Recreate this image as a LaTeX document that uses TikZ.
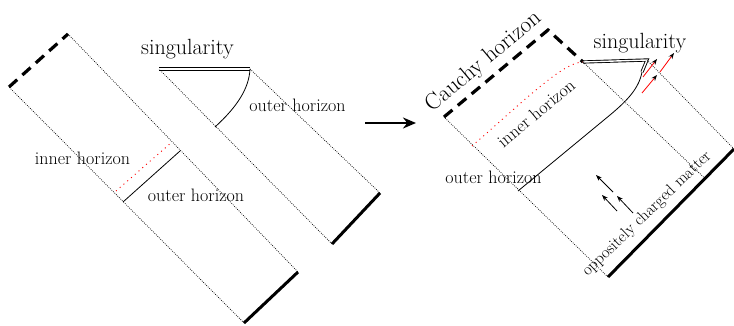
\documentclass[tikz,border=0pt]{standalone}
\usetikzlibrary{arrows.meta}
\begin{document}
\begin{tikzpicture}[x=1pt,y=-1pt,
  edge/.style={line width=0.7pt, dash pattern=on 0.8pt off 1.3pt},
  thickb/.style={line width=3pt},
  dashb/.style={line width=3.2pt, dash pattern=on 11pt off 7pt},
  sing/.style={double, double distance=1.4pt, line width=0.9pt},
  redh/.style={red, line width=0.9pt, dash pattern=on 1pt off 4pt},
  hor/.style={line width=0.8pt},
  smallarr/.style={line width=0.8pt, -{Stealth[length=6pt,width=4.5pt]}},
  redarr/.style={red, line width=0.8pt, -{Stealth[length=6pt,width=4.5pt,black]}},
  lbl/.style={inner sep=0pt, font=\fontsize{18}{20}\selectfont},
  biglbl/.style={inner sep=0pt, font=\fontsize{22}{24}\selectfont}]
\useasboundingbox (0,0) rectangle (734,326);
% left strip 1
\coordinate (A1) at (9,87);
\coordinate (A2) at (68,34);
\coordinate (A3) at (298,272);
\coordinate (A4) at (244,323);
\draw[dashb] (A1) -- (A2);
\draw[edge] (A2) -- (A3);
\draw[thickb] (A3) -- (A4);
\draw[edge] (A4) -- (A1);
\coordinate (ih1) at (116,191);
\coordinate (ih2) at (172,142);
\coordinate (oh1) at (123,202);
\coordinate (oh2) at (180,151);
\draw[redh] (ih1) -- (ih2);
\draw[hor] (oh1) -- (oh2);
\node[lbl, anchor=base] (Lih) at (82.5,165) {inner horizon};
\node[lbl, anchor=base] (Loh) at (196,201) {outer horizon};
% left strip 2
\coordinate (B1) at (159,69);
\coordinate (B2) at (250,69);
\coordinate (B3) at (380,193);
\coordinate (B4) at (332,244);
\draw[sing] (B1) -- (B2);
\draw[edge] (B2) -- (B3);
\draw[thickb] (B3) -- (B4);
\draw[edge] (B4) -- (B1);
\coordinate (boh) at (215,127);
\draw[hor] (boh) .. controls (238,106) and (249,88) .. (B2);
\node[biglbl, anchor=base] (Lsing) at (187.5,55) {singularity};
\node[lbl, anchor=base] (Loh2) at (297.5,111.5) {outer horizon};
% transition arrow
\coordinate (T1) at (365,123);
\coordinate (T2) at (416,123);
\draw[line width=2.5pt, -{Stealth[length=13pt,width=11pt]}] (T1) -- (T2);
% right diagram
\coordinate (C1) at (444,117);
\coordinate (C2) at (548,30);
\coordinate (C3) at (583,62);
\coordinate (C4) at (647,60);
\coordinate (C4b) at (642,72);
\coordinate (C5) at (734,149);
\coordinate (C6) at (608,277);
\coordinate (D) at (705,178.5);
\draw[dashb] (C1) -- (C2) -- (C3);
\draw[sing] (C3) -- (C4) -- (C4b);
\draw[edge] (C4) -- (C5);
\draw[thickb] (C5) -- (C6);
\draw[edge] (C6) -- (C1);
\draw[edge] (C3) -- (D);
\coordinate (rih) at (472,146);
\draw[redh] (rih) .. controls (525,100) and (563,62) .. (C3);
\coordinate (roh) at (518,191);
\coordinate (rohm) at (610,115);
\draw[hor] (roh) -- (rohm) .. controls (628,100) and (639,88) .. (C4b);
\node[biglbl, anchor=base] (Rsing) at (640,49) {singularity};
\node[lbl, anchor=base] (Roh) at (493.5,184) {outer horizon};
\node[lbl, rotate=40] (Rih) at (536,113) {inner horizon};
\node[inner sep=0pt, font=\fontsize{23}{25}\selectfont, rotate=40] (Rch) at (484,62) {Cauchy horizon};
\node[inner sep=0pt, font=\fontsize{16.5}{18}\selectfont, rotate=44] (Rocm) at (647,214) {oppositely charged matter};
% matter arrows
\coordinate (m1a) at (613,192); \coordinate (m1b) at (596,175);
\coordinate (m2a) at (617,211); \coordinate (m2b) at (602,195);
\coordinate (m3a) at (633,213); \coordinate (m3b) at (617,196);
\draw[smallarr] (m1a) -- (m1b);
\draw[smallarr] (m2a) -- (m2b);
\draw[smallarr] (m3a) -- (m3b);
\coordinate (r1a) at (643,77); \coordinate (r1b) at (657,59);
\coordinate (r2a) at (642,93); \coordinate (r2b) at (657,75);
\coordinate (r3a) at (660,72); \coordinate (r3b) at (674,53);
\draw[redarr] (r1a) -- (r1b);
\draw[redarr] (r2a) -- (r2b);
\draw[redarr] (r3a) -- (r3b);
\end{tikzpicture}
\end{document}
